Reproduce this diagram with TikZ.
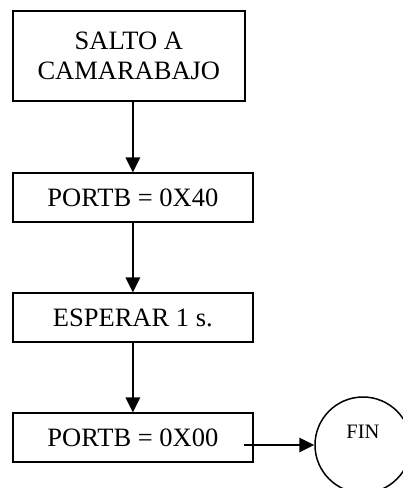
\documentclass[tikz,border=0pt]{standalone}
\usepackage{fontspec}
\setmainfont{Liberation Serif}
\usetikzlibrary{arrows.meta}
\begin{document}
\begin{tikzpicture}[x=1pt,y=-1pt,
  stepbox/.style={draw, line width=1.8pt, rectangle, inner sep=0pt,
    font=\fontsize{26.5}{29.5}\selectfont, align=center},
  endcircle/.style={draw, line width=1.5pt, circle, inner sep=0pt, minimum size=96pt},
  flow/.style={line width=1.6pt, -{Triangle[length=15pt,width=14.5pt]}},
]
\useasboundingbox (0,0) rectangle (403,488);
\clip (0,0) rectangle (403,488);

% process steps
\node[stepbox, minimum width=232.3pt, minimum height=90.3pt, text depth=0pt] (salto) at (128.85,55.85) {SALTO A\\CAMARABAJO};
\node[stepbox, minimum width=240.3pt, minimum height=49pt] (port40) at (132.85,197.8) {PORTB = 0X40};
\node[stepbox, minimum width=240.3pt, minimum height=49pt] (espera) at (132.85,317.8) {ESPERAR 1 s.};
\node[stepbox, minimum width=240.3pt, minimum height=49pt] (port00) at (132.85,437.8) {PORTB = 0X00};

% end terminal
\node[endcircle] (fin) at (363,445) {};
\node[font=\fontsize{20.5}{24}\selectfont, anchor=base, inner sep=0pt] (fintext) at (363,438.7) {FIN};

% connectors
\draw[flow] (port40.north |- salto.south) -- (port40.north);
\draw[flow] (port40.south) -- (espera.north);
\draw[flow] (espera.south) -- (port00.north);
\coordinate (exit) at (244,445);
\draw[flow] (exit) -- (fin.west);
\end{tikzpicture}
\end{document}
